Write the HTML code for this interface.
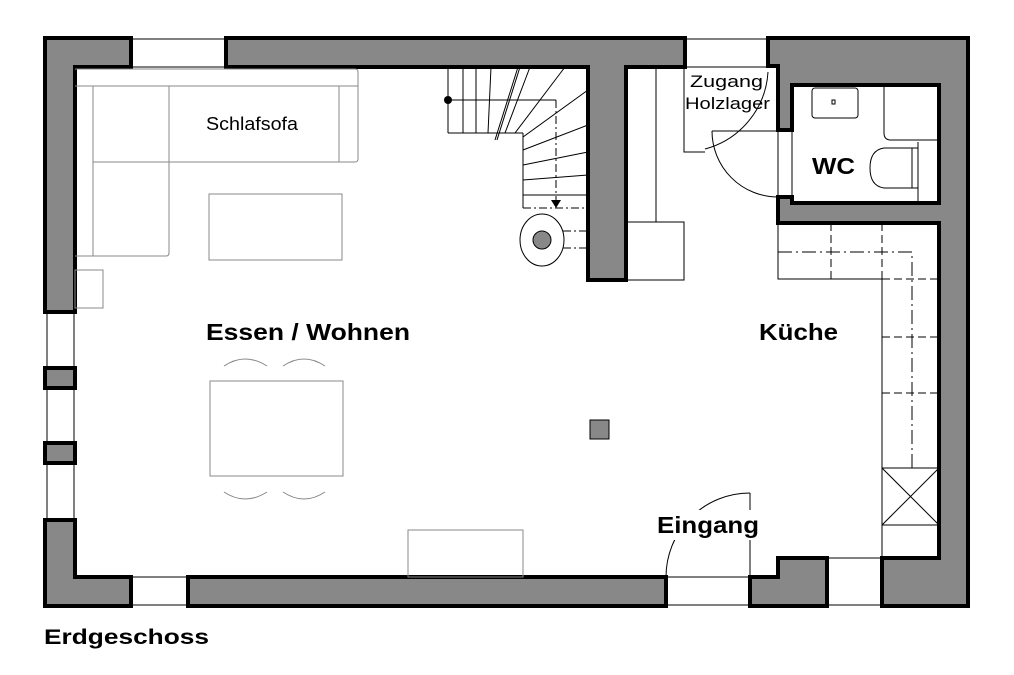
<!DOCTYPE html>
<html><head><meta charset="utf-8"><style>
html,body{margin:0;padding:0;background:#fff;}
svg{display:block;font-family:"Liberation Sans",Arial,sans-serif;}
</style></head><body>
<svg width="1014" height="675" viewBox="0 0 1014 675" xmlns="http://www.w3.org/2000/svg">
<rect width="1014" height="675" fill="#fff"/>
<g stroke="#000" stroke-width="1" fill="none">
<line x1="131" y1="39" x2="226" y2="39"/><line x1="131" y1="67" x2="226" y2="67"/>
<line x1="685" y1="39" x2="768" y2="39"/><line x1="685" y1="67" x2="768" y2="67"/>
<line x1="47" y1="312" x2="47" y2="520"/><line x1="74" y1="312" x2="74" y2="520"/>
<line x1="131" y1="577" x2="188" y2="577"/><line x1="131" y1="605" x2="188" y2="605"/>
<line x1="666" y1="577" x2="750" y2="577"/><line x1="666" y1="605" x2="750" y2="605"/>
<line x1="827" y1="558" x2="882" y2="558"/><line x1="827" y1="605" x2="882" y2="605"/>
<line x1="778" y1="130" x2="778" y2="197"/><line x1="792" y1="130" x2="792" y2="197"/>
</g>
<g fill="#888" stroke="#000" stroke-width="4" stroke-linejoin="miter">
<polygon points="45,38 131,38 131,67 75,67 75,312 45,312"/>
<rect x="45" y="368" width="30" height="20"/>
<rect x="45" y="443" width="30" height="20"/>
<polygon points="45,520 75,520 75,577 131,577 131,606 45,606"/>
<polygon points="226,38 685,38 685,67 626,67 626,280 588,280 588,67 226,67"/>
<polygon points="188,577 666,577 666,606 188,606"/>
<polygon points="750,577 778,577 778,558 827,558 827,606 750,606"/>
<polygon points="768,38 968,38 968,606 882,606 882,558 939,558 939,223 778,223 778,197 792,197 792,203 939,203 939,85 792,85 792,130 778,130 778,66 768,66"/>
</g>
<g stroke="#888" stroke-width="1" fill="none">
<path d="M75,69 H355 Q358,69 358,72 V159 Q358,162 355,162 H169 V253 Q169,256 166,256 H75"/>
<line x1="75" y1="86" x2="358" y2="86"/>
<line x1="93" y1="86" x2="93" y2="256"/>
<line x1="169" y1="86" x2="169" y2="162"/>
<line x1="93" y1="162" x2="169" y2="162"/>
<line x1="339" y1="86" x2="339" y2="162"/>
<rect x="75" y="270" width="28" height="38"/>
<rect x="209" y="194" width="133" height="66"/>
<rect x="210" y="381" width="133" height="95"/>
<path d="M224,366 Q245,352 267,366"/><path d="M283,366 Q304,352 325,366"/>
<path d="M224,492 Q245,506 267,492"/><path d="M283,492 Q304,506 325,492"/>
<rect x="408" y="530" width="115" height="47"/>
</g>
<g stroke="#000" stroke-width="1" fill="none">
<line x1="448" y1="67" x2="448" y2="133"/><line x1="463" y1="67" x2="463" y2="133"/>
<line x1="476" y1="67" x2="476" y2="133"/><line x1="491" y1="67" x2="488" y2="133"/>
<line x1="448" y1="133" x2="523" y2="133"/>
<line x1="518" y1="67" x2="495" y2="140"/><line x1="520" y1="67" x2="497" y2="140"/>
<line x1="448" y1="100" x2="556" y2="100"/>
<line x1="556" y1="100" x2="556" y2="200" stroke-dasharray="8,3,2,3"/>
<line x1="523" y1="133" x2="523" y2="208"/>
<line x1="505" y1="133" x2="530" y2="67"/><line x1="515" y1="133" x2="565" y2="67"/>
<line x1="523" y1="137" x2="588" y2="90"/><line x1="523" y1="150" x2="588" y2="125"/>
<line x1="523" y1="165" x2="588" y2="152"/><line x1="523" y1="180" x2="588" y2="175"/>
<line x1="523" y1="195" x2="588" y2="195"/>
<line x1="523" y1="208" x2="588" y2="208" stroke-dasharray="8,3,2,3"/>
<ellipse cx="542" cy="240" rx="22" ry="26"/>
<line x1="563" y1="231" x2="588" y2="231" stroke-dasharray="8,3,2,3"/>
<line x1="563" y1="248" x2="588" y2="248" stroke-dasharray="8,3,2,3"/>
<line x1="656" y1="67" x2="656" y2="222"/>
<path d="M626,222 H684 V280 H626"/>
<line x1="626" y1="222" x2="656" y2="222" stroke-dasharray="6,4"/>
<path d="M684,67 V152 H705"/>
<path d="M705,149 A85,85 0 0 0 768,72"/>
<line x1="712" y1="131" x2="778" y2="131"/>
<path d="M712,131 A66,66 0 0 0 778,197"/>
<rect x="812" y="88" width="46" height="30" rx="3"/>
<rect x="832" y="100" width="3" height="4"/>
<path d="M939,85 V140 H891 Q884,140 884,133 V85"/>
<line x1="918" y1="142" x2="918" y2="203"/>
<path d="M918,148 H884 Q870,150 870,168 Q870,186 884,188 H918"/>
<line x1="912" y1="148" x2="912" y2="188"/>
<path d="M778,223 V279 H882 V558"/>
<line x1="831" y1="223" x2="831" y2="279" stroke-dasharray="8,4"/>
<line x1="882" y1="223" x2="882" y2="279" stroke-dasharray="8,4"/>
<path d="M778,252 H912 V468" stroke-dasharray="14,4,2,4"/>
<line x1="882" y1="279" x2="939" y2="279" stroke-dasharray="8,4"/>
<line x1="882" y1="337" x2="939" y2="337" stroke-dasharray="8,4"/>
<line x1="882" y1="393" x2="939" y2="393" stroke-dasharray="8,4"/>
<rect x="882" y="468" width="57" height="57"/>
<line x1="882" y1="468" x2="939" y2="525"/><line x1="939" y1="468" x2="882" y2="525"/>
<line x1="750" y1="493" x2="750" y2="577"/>
<path d="M750,493 A84,84 0 0 0 666,577"/>
</g>
<circle cx="448" cy="100" r="4" fill="#000"/>
<polygon points="551,200 561,200 556,208" fill="#000"/>
<circle cx="542" cy="240" r="9" fill="#888" stroke="#000" stroke-width="1"/>
<rect x="590" y="420" width="19" height="19" fill="#888" stroke="#000" stroke-width="1"/>
<rect x="655" y="510" width="106" height="30" fill="#fff"/>
<g fill="#000">
<text x="206" y="130" font-size="18" textLength="92" lengthAdjust="spacingAndGlyphs">Schlafsofa</text>
<text x="206" y="340" font-size="23" font-weight="bold" textLength="204" lengthAdjust="spacingAndGlyphs">Essen / Wohnen</text>
<text x="759" y="340" font-size="23" font-weight="bold" textLength="79" lengthAdjust="spacingAndGlyphs">Küche</text>
<text x="657" y="533" font-size="23" font-weight="bold" textLength="102" lengthAdjust="spacingAndGlyphs">Eingang</text>
<text x="812" y="174" font-size="23" font-weight="bold" textLength="43" lengthAdjust="spacingAndGlyphs">WC</text>
<text x="690" y="87" font-size="17" textLength="73" lengthAdjust="spacingAndGlyphs">Zugang</text>
<text x="685" y="109" font-size="17" textLength="85" lengthAdjust="spacingAndGlyphs">Holzlager</text>
<text x="44" y="644" font-size="21" font-weight="bold" textLength="165" lengthAdjust="spacingAndGlyphs">Erdgeschoss</text>
</g>
</svg>
</body></html>
